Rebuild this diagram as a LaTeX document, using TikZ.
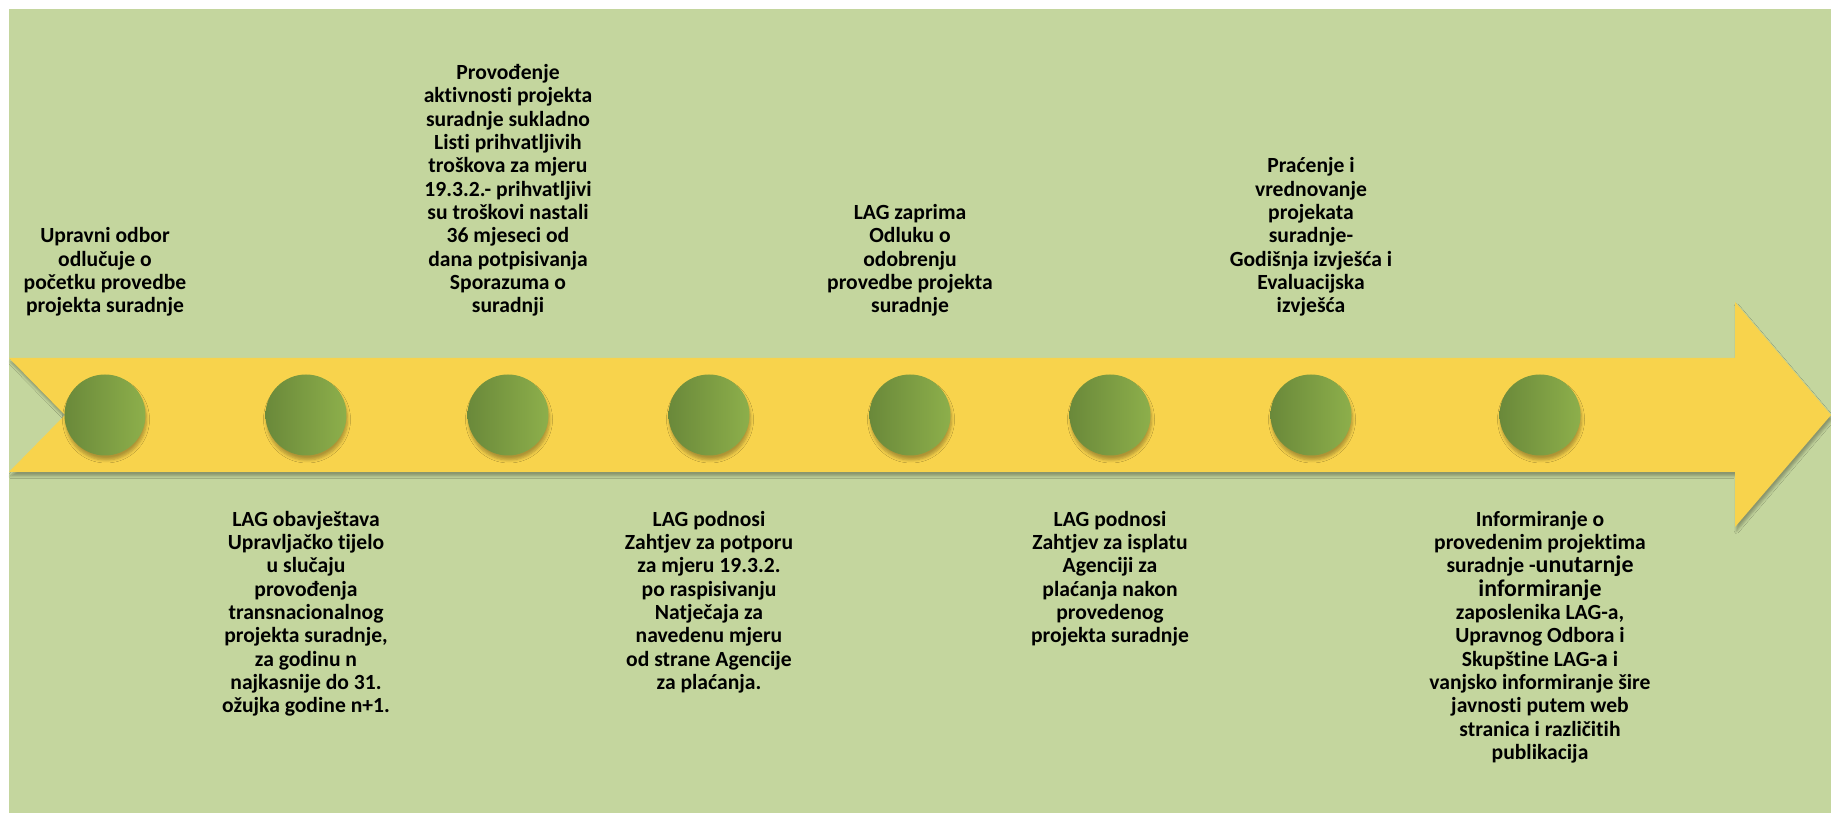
\documentclass[tikz,border=0pt]{standalone}
\usepackage{fontspec}
\setmainfont{Carlito}[Ligatures=NoCommon]
\usetikzlibrary{positioning, shadows.blur}

\definecolor{pozadina}{HTML}{C4D69E}
\definecolor{strelica}{HTML}{F8D34C}
\definecolor{krugtamna}{HTML}{6A893A}
\definecolor{krugsvijetla}{HTML}{8DAF4B}

\newcommand{\opisfont}{\bfseries\fontsize{12.3}{13.27}\selectfont}
\newcommand{\veci}[1]{{\fontsize{13.6}{13.27}\selectfont #1}}

\begin{document}
\begin{tikzpicture}[
        x = 0.02cm, y = 0.02cm, % 1 unit = 1 px
        krug/.style = {circle, minimum size = 1.62cm, inner sep = 0pt,
            left color = krugtamna, right color = krugsvijetla,
            blur shadow = {shadow xshift = 0.02cm, shadow yshift = -0.09cm,
                shadow opacity = 30, shadow blur radius = 0.06cm,
                shadow blur steps = 5}},
        opis/.style = {align = center, inner sep = 0pt, font = \opisfont}
    ]

    \useasboundingbox (0,0) rectangle (1831,813);
    \fill[pozadina] (9,0) rectangle (1831,804);

    % the arrow
    \fill[strelica, blur shadow = {shadow xshift = 0.03cm,
            shadow yshift = -0.08cm, shadow opacity = 30,
            shadow blur radius = 0.05cm}]
        (9,455) -- (1735,455) -- (1735,511) -- (1831,398) -- (1735,286)
        -- (1735,341) -- (9,341) -- (65,398) -- cycle;

    % circles on the arrow
    \foreach \n/\x in {1/105, 2/306, 3/508, 4/709, 5/910, 6/1110, 7/1311, 8/1540}
        \node[krug] (c\n) at (\x,398) {};

    % texts above
    \node[opis, above = 1.15cm of c1] (t1) {Upravni odbor\\odlučuje o\\početku provedbe\\projekta suradnje};
    \node[opis, above = 1.15cm of c3] (t3) {Provođenje\\aktivnosti projekta\\suradnje sukladno\\Listi prihvatljivih\\troškova za mjeru\\19.3.2.- prihvatljivi\\su troškovi nastali\\36 mjeseci od\\dana potpisivanja\\Sporazuma o\\suradnji};
    \node[opis, above = 1.15cm of c5] (t5) {LAG zaprima\\Odluku o\\odobrenju\\provedbe projekta\\suradnje};
    \node[opis, above = 1.15cm of c7] (t7) {Praćenje i\\vrednovanje\\projekata\\suradnje-\\Godišnja izvješća i\\Evaluacijska\\izvješća};

    % texts below
    \node[opis, below = 1.1cm of c2] (t2) {LAG obavještava\\Upravljačko tijelo\\u slučaju\\provođenja\\transnacionalnog\\projekta suradnje,\\za godinu n\\najkasnije do 31.\\ožujka godine n+1.};
    \node[opis, below = 1.1cm of c4] (t4) {LAG podnosi\\Zahtjev za potporu\\za mjeru 19.3.2.\\po raspisivanju\\Natječaja za\\navedenu mjeru\\od strane Agencije\\za plaćanja.};
    \node[opis, below = 1.1cm of c6] (t6) {LAG podnosi\\Zahtjev za isplatu\\Agenciji za\\plaćanja nakon\\provedenog\\projekta suradnje};
    \node[opis, below = 1.1cm of c8] (t8) {Informiranje o\\provedenim projektima\\suradnje -\veci{unutarnje}\\\veci{informiranje}\\zaposlenika LAG-a,\\Upravnog Odbora i\\Skupštine LAG-\veci{a} i\\vanjsko informiranje šire\\javnosti putem web\\stranica i različitih\\publikacija};

\end{tikzpicture}
\end{document}
